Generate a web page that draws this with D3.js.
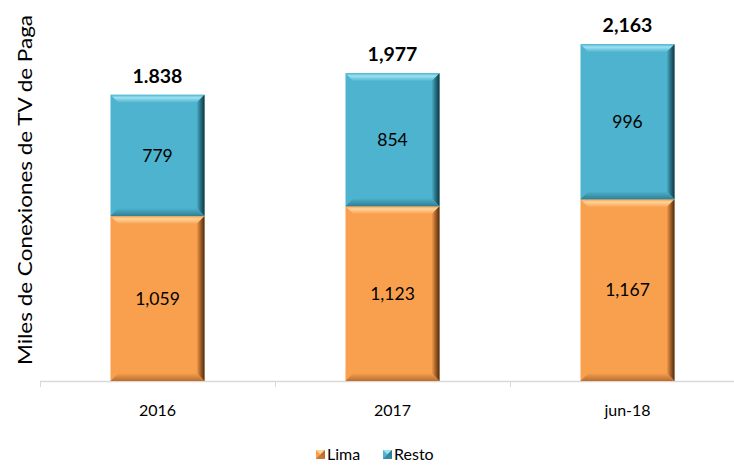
<!DOCTYPE html>
<html><head><meta charset="utf-8">
<script src="https://cdn.jsdelivr.net/npm/d3@7"></script>
<style>body{margin:0;background:#fff}svg{display:block}</style>
</head><body>
<script>
const categories = ["2016","2017","jun-18"];
const lima = [1059,1123,1167];
const resto = [779,854,996];
const totalLabels = ["1.838","1,977","2,163"];
const seriesNames = ["Lima","Resto"];

const W=734,H=466;
const svg=d3.select("body").append("svg").attr("width",W).attr("height",H);
const defs=svg.append("defs");
const font="Lato, 'Open Sans', sans-serif";
const x=d3.scaleBand().domain(categories).range([40,745]).paddingInner(0).paddingOuter(0);
const y=d3.scaleLinear().domain([0,2400]).range([381,7.3]);
const barW=x.bandwidth()*0.4;
const colors={Lima:{base:"#F9A04E",light:"#FFD49A",dark:"#B86E2E",darker:"#4A2A10"},
              Resto:{base:"#4EB3CE",light:"#9BE2F2",dark:"#2F7F94",darker:"#10343E"}};

function grad(id,x1,y1,x2,y2,stops){
  const g=defs.append("linearGradient").attr("id",id).attr("x1",x1).attr("y1",y1).attr("x2",x2).attr("y2",y2);
  stops.forEach(s=>g.append("stop").attr("offset",s[0]).attr("stop-color",s[1]));
}
seriesNames.forEach(n=>{
  const c=colors[n];
  grad(n+"top",0,0,0,1,[[0,c.base],[0.35,c.light],[1,c.base]]);
  grad(n+"right",0,0,1,0,[[0,c.base],[0.4,c.dark],[1,c.darker]]);
  grad(n+"bottom",0,0,0,1,[[0,c.base],[1,c.dark]]);
  grad(n+"left",0,0,1,0,[[0,c.base],[1,c.base]]);
});

// axis
svg.append("line").attr("x1",40).attr("x2",W).attr("y1",381.5).attr("y2",381.5).attr("stroke","#D9D9D9").attr("stroke-width",1.5);
const bounds=[40].concat(categories.map(c=>x(c)+x.bandwidth()));
svg.selectAll(".tk").data(bounds).enter().append("line")
 .attr("x1",d=>Math.round(d)+0.5).attr("x2",d=>Math.round(d)+0.5).attr("y1",381).attr("y2",387).attr("stroke","#D9D9D9");

function bevelRect(g,x0,y0,w,h,n,b){
  const c=colors[n];
  const x1=x0+w,y1=y0+h;
  g.append("rect").attr("x",x0).attr("y",y0).attr("width",w).attr("height",h).attr("fill",c.base);
  g.append("polygon").attr("points",[[x0,y0],[x1,y0],[x1-b,y0+b],[x0+b,y0+b]].join(" ")).attr("fill",`url(#${n}top)`);
  g.append("polygon").attr("points",[[x1,y0],[x1,y1],[x1-b,y1-b],[x1-b,y0+b]].join(" ")).attr("fill",`url(#${n}right)`);
  g.append("polygon").attr("points",[[x0,y1],[x0+b,y1-b],[x1-b,y1-b],[x1,y1]].join(" ")).attr("fill",`url(#${n}bottom)`);
}

categories.forEach((cat,i)=>{
  const cx=x(cat)+x.bandwidth()/2, x0=cx-barW/2;
  const g=svg.append("g");
  bevelRect(g,x0,y(lima[i]),barW,y(0)-y(lima[i]),"Lima",8);
  bevelRect(g,x0,y(lima[i]+resto[i]),barW,y(lima[i])-y(lima[i]+resto[i]),"Resto",8);
  svg.append("text").attr("x",cx).attr("y",(y(0)+y(lima[i]))/2).attr("dy","0.35em").attr("text-anchor","middle")
    .attr("font-family",font).attr("font-size",17.5).attr("fill","#000").text(d3.format(",")(lima[i]));
  svg.append("text").attr("x",cx).attr("y",(y(lima[i])+y(lima[i]+resto[i]))/2).attr("dy","0.35em").attr("text-anchor","middle")
    .attr("font-family",font).attr("font-size",17.5).attr("fill","#000").text(d3.format(",")(resto[i]));
  svg.append("text").attr("x",cx).attr("y",y(lima[i]+resto[i])-12).attr("text-anchor","middle")
    .attr("font-family",font).attr("font-weight","bold").attr("font-size",19.5).attr("fill","#000").text(totalLabels[i]);
  svg.append("text").attr("x",cx).attr("y",416).attr("text-anchor","middle")
    .attr("font-family",font).attr("font-size",16).attr("fill","#000").text(cat);
});

// y title
svg.append("text").attr("transform","translate(32,190) rotate(-90)").attr("text-anchor","middle")
  .attr("font-family",font).attr("font-size",19).attr("fill","#000")
  .attr("textLength",350).attr("lengthAdjust","spacingAndGlyphs").text("Miles de Conexiones de TV de Paga");

// legend
const leg=[{n:"Lima",x:316},{n:"Resto",x:383}];
leg.forEach(l=>{
  const c=colors[l.n], s=9, lx=l.x, ly=450;
  const g=svg.append("g");
  g.append("rect").attr("x",lx).attr("y",ly).attr("width",s).attr("height",s).attr("fill",c.base);
  g.append("polygon").attr("points",[[lx,ly],[lx+s,ly],[lx+s/2,ly+s/2]].join(" ")).attr("fill",c.light);
  g.append("polygon").attr("points",[[lx+s,ly],[lx+s,ly+s],[lx+s/2,ly+s/2]].join(" ")).attr("fill",c.dark);
  g.append("polygon").attr("points",[[lx,ly+s],[lx+s,ly+s],[lx+s/2,ly+s/2]].join(" ")).attr("fill",c.dark).attr("opacity",0.8);
  svg.append("text").attr("x",lx+s+2).attr("y",ly+s+0.5).attr("font-family",font).attr("font-size",16).attr("fill","#000").text(l.n);
});
</script>
</body></html>
